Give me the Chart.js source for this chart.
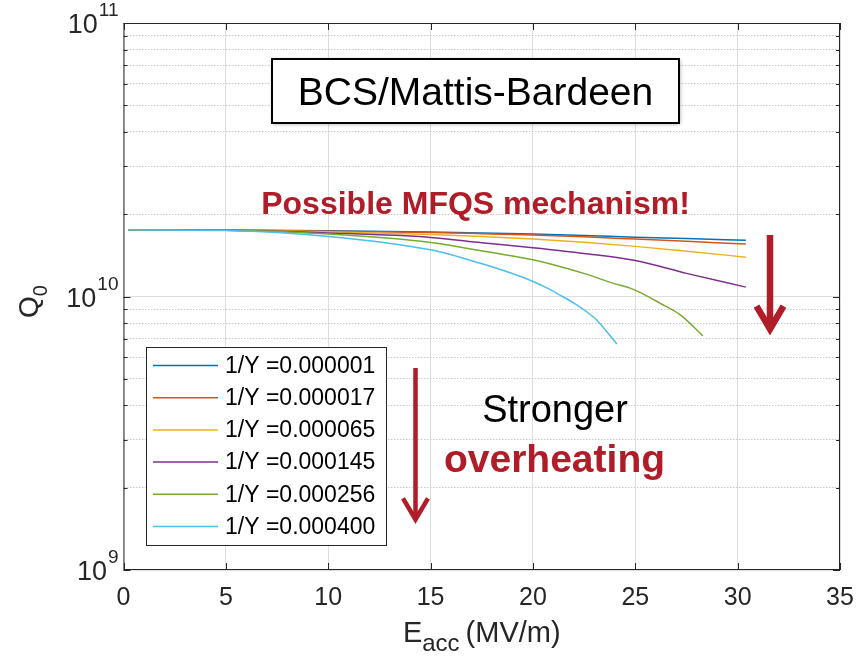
<!DOCTYPE html>
<html>
<head>
<meta charset="utf-8">
<script src="https://cdn.jsdelivr.net/npm/chart.js@4.4.1/dist/chart.umd.min.js"></script>
<style>
  html, body { margin: 0; padding: 0; background: #fff; }
  #wrap { width: 859px; height: 660px; }
</style>
</head>
<body>
<div id="wrap"><canvas id="q0Chart" width="859" height="660"></canvas></div>
<script>
// E_acc (MV/m) sample positions
const eaccFlat = [0.25, 5, 10, 15, 17.5, 20, 22.5, 25, 27.5, 30.4];
const eaccGreen = [0.25, 5, 10, 15, 17.4, 19.4, 20, 21, 22.6, 23.9, 24.75, 25.2, 26.2, 27.2, 28.3];
const eaccCyan = [0.25, 5, 10, 15, 17.4, 19.4, 20, 20.7, 21.3, 22, 22.6, 23.1, 23.6, 24.1];

// Q0 values
const q000001 = [1.753e10, 1.750e10, 1.738e10, 1.722e10, 1.708e10, 1.693e10, 1.672e10, 1.648e10, 1.628e10, 1.607e10];
const q000017 = [1.753e10, 1.749e10, 1.733e10, 1.714e10, 1.697e10, 1.677e10, 1.652e10, 1.622e10, 1.592e10, 1.555e10];
const q000065 = [1.753e10, 1.748e10, 1.724e10, 1.686e10, 1.657e10, 1.622e10, 1.578e10, 1.525e10, 1.465e10, 1.393e10];
const q000145 = [1.753e10, 1.745e10, 1.707e10, 1.644e10, 1.573e10, 1.508e10, 1.437e10, 1.353e10, 1.215e10, 1.082e10];
const q000256 = [1.753e10, 1.745e10, 1.691e10, 1.576e10, 1.473e10, 1.389e10, 1.362e10, 1.306e10, 1.207e10, 1.119e10, 1.073e10, 1.038e10, 0.946e10, 0.857e10, 0.718e10];
const q000400 = [1.753e10, 1.742e10, 1.658e10, 1.481e10, 1.325e10, 1.183e10, 1.135e10, 1.073e10, 1.014e10, 0.946e10, 0.882e10, 0.822e10, 0.745e10, 0.670e10];

const seriesLabels = ['1/Y =0.000001', '1/Y =0.000017', '1/Y =0.000065', '1/Y =0.000145', '1/Y =0.000256', '1/Y =0.000400'];
const seriesX = [eaccFlat, eaccFlat, eaccFlat, eaccFlat, eaccGreen, eaccCyan];
const seriesQ = [q000001, q000017, q000065, q000145, q000256, q000400];
const seriesColors = ['#0072bd', '#d95319', '#edb120', '#7e2f8e', '#77ac30', '#4dbeee'];

const xTicks = [0, 5, 10, 15, 20, 25, 30, 35];
const yDecades = [1e9, 1e10, 1e11];
const yGridValues = [];
[1e9, 1e10].forEach((d) => [1, 2, 3, 4, 5, 6, 7, 8, 9].forEach((m) => yGridValues.push(m * d)));
yGridValues.push(1e11);

const FONT = '"Liberation Sans", Arial, Helvetica, sans-serif';
const font = (size, bold) => `${bold ? 'bold ' : ''}${size}px ${FONT}`;
const RED = '#b01c27';
const AXIS = '#262626';
const isDecade = (v) => Math.abs(Math.log10(v) - Math.round(Math.log10(v))) < 1e-9;

const arrow = (ctx, x, y0, y1, width, head) => {
    ctx.save();
    ctx.strokeStyle = RED;
    ctx.lineWidth = width;
    ctx.lineCap = 'butt';
    ctx.beginPath();
    ctx.moveTo(x, y0);
    ctx.lineTo(x, y1 - 3);
    ctx.stroke();
    ctx.lineJoin = 'miter';
    ctx.beginPath();
    ctx.moveTo(x - head, y1 - head * 1.85);
    ctx.lineTo(x, y1 - 2);
    ctx.lineTo(x + head, y1 - head * 1.85);
    ctx.stroke();
    ctx.restore();
};

const decorPlugin = {
    id: 'decor',
    afterDatasetsDraw(chart) {
        const { ctx, chartArea: a, scales: { x, y } } = chart;
        ctx.save();
        // axes box and inward ticks
        ctx.strokeStyle = AXIS;
        ctx.lineWidth = 1;
        ctx.strokeRect(a.left + 0.5, a.top + 0.5, a.right - a.left - 1, a.bottom - a.top - 1);
        ctx.beginPath();
        xTicks.forEach((v) => {
            const px = Math.round(x.getPixelForValue(v)) + 0.5;
            ctx.moveTo(px, a.bottom); ctx.lineTo(px, a.bottom - 7);
            ctx.moveTo(px, a.top); ctx.lineTo(px, a.top + 7);
        });
        yGridValues.forEach((v) => {
            const py = Math.round(y.getPixelForValue(v)) + 0.5;
            const len = isDecade(v) ? 7 : 4;
            ctx.moveTo(a.left, py); ctx.lineTo(a.left + len, py);
            ctx.moveTo(a.right, py); ctx.lineTo(a.right - len, py);
        });
        ctx.stroke();

        // tick labels
        ctx.fillStyle = AXIS;
        ctx.font = font(25);
        ctx.textAlign = 'center';
        ctx.textBaseline = 'middle';
        xTicks.forEach((v) => ctx.fillText(String(v), x.getPixelForValue(v), a.bottom + 28));
        yDecades.forEach((v) => {
            const py = y.getPixelForValue(v);
            const exp = String(Math.round(Math.log10(v)));
            ctx.font = font(19);
            ctx.textAlign = 'left';
            const we = ctx.measureText(exp).width;
            const ex = a.left - 5 - we;
            ctx.fillText(exp, ex, py - 12);
            ctx.font = font(27);
            ctx.textAlign = 'right';
            ctx.fillText('10', ex - 1, py + 3);
        });

        // axis titles
        ctx.textAlign = 'left';
        ctx.textBaseline = 'alphabetic';
        ctx.font = font(29);
        const wE = ctx.measureText('E').width;
        const wUnit = ctx.measureText('(MV/m)').width;
        ctx.font = font(24);
        const wSub = ctx.measureText('acc').width;
        const ty = 642;
        let cx = (a.left + a.right) / 2 - (wE + wSub + 6 + wUnit) / 2;
        ctx.font = font(29);
        ctx.fillText('E', cx, ty);
        cx += wE;
        ctx.font = font(24);
        ctx.fillText('acc', cx, ty + 9);
        cx += wSub + 6;
        ctx.font = font(29);
        ctx.fillText('(MV/m)', cx, ty);

        ctx.save();
        ctx.translate(38, 318);
        ctx.rotate(-Math.PI / 2);
        ctx.font = font(28);
        ctx.fillText('Q', 0, 0);
        const qw = ctx.measureText('Q').width;
        ctx.font = font(20);
        ctx.fillText('0', qw, 9);
        ctx.restore();

        // legend
        const lx = a.left + 22.5, ly = a.bottom - 223, lw = 240, lh = 198;
        ctx.fillStyle = '#fff';
        ctx.fillRect(lx, ly, lw, lh);
        ctx.strokeStyle = AXIS;
        ctx.lineWidth = 1;
        ctx.strokeRect(lx + 0.5, ly + 0.5, lw, lh);
        chart.data.datasets.forEach((ds, i) => {
            const ry = ly + 18.5 + i * 32.2;
            ctx.strokeStyle = ds.borderColor;
            ctx.lineWidth = 1.5;
            ctx.beginPath();
            ctx.moveTo(lx + 7, ry); ctx.lineTo(lx + 72, ry);
            ctx.stroke();
            ctx.fillStyle = '#000';
            ctx.font = font(23);
            ctx.textBaseline = 'middle';
            ctx.fillText(ds.label, lx + 79, ry + 1);
        });

        // annotation box
        ctx.shadowColor = 'rgba(0,0,0,0.35)';
        ctx.shadowBlur = 4;
        ctx.shadowOffsetX = 1;
        ctx.shadowOffsetY = 1;
        ctx.fillStyle = '#fff';
        ctx.fillRect(272, 59, 407, 64);
        ctx.shadowColor = 'transparent';
        ctx.strokeStyle = '#000';
        ctx.lineWidth = 2;
        ctx.strokeRect(272, 59, 407, 64);
        ctx.fillStyle = '#000';
        ctx.textAlign = 'center';
        ctx.textBaseline = 'alphabetic';
        ctx.font = font(39);
        ctx.fillText('BCS/Mattis-Bardeen', 475.5, 105);

        ctx.fillStyle = RED;
        ctx.font = font(32, true);
        ctx.fillText('Possible MFQS mechanism!', 475.5, 214);

        ctx.fillStyle = '#000';
        ctx.font = font(38);
        ctx.fillText('Stronger', 555, 421.5);
        ctx.fillStyle = RED;
        ctx.font = font(39, true);
        ctx.fillText('overheating', 554.5, 472);

        arrow(ctx, 415.5, 368, 521.5, 4.5, 12.5);
        arrow(ctx, 770, 235, 331, 6.5, 13.5);
        ctx.restore();
    }
};

new Chart(document.getElementById('q0Chart'), {
    type: 'line',
    data: {
        datasets: seriesLabels.map((label, i) => ({
            label,
            data: seriesX[i].map((e, k) => ({ x: e, y: seriesQ[i][k] })),
            borderColor: seriesColors[i],
            borderWidth: 1.5,
            pointRadius: 0,
            fill: false,
            cubicInterpolationMode: 'monotone',
            order: seriesLabels.length - i
        }))
    },
    options: {
        responsive: false,
        animation: false,
        events: [],
        layout: { padding: { top: 23, right: 19, left: 0, bottom: 0 } },
        plugins: { legend: { display: false }, tooltip: { enabled: false } },
        scales: {
            x: {
                type: 'linear',
                min: 0,
                max: 35,
                ticks: { display: false, stepSize: 5 },
                grid: { color: '#dedede', lineWidth: 1, drawTicks: false },
                border: { display: false },
                afterFit: (s) => { s.height = 90; }
            },
            y: {
                type: 'logarithmic',
                min: 1e9,
                max: 1e11,
                afterBuildTicks: (s) => { s.ticks = yGridValues.map((v) => ({ value: v })); },
                ticks: { display: false },
                grid: {
                    drawTicks: false,
                    lineWidth: 1,
                    color: (c) => (c.tick && !isDecade(c.tick.value) ? '#c8c8c8' : '#dedede')
                },
                border: {
                    display: false,
                    dash: (c) => (c.tick && !isDecade(c.tick.value) ? [1.5, 1.5] : [])
                },
                afterFit: (s) => { s.width = 123.5; }
            }
        }
    },
    plugins: [decorPlugin]
});
</script>
</body>
</html>
